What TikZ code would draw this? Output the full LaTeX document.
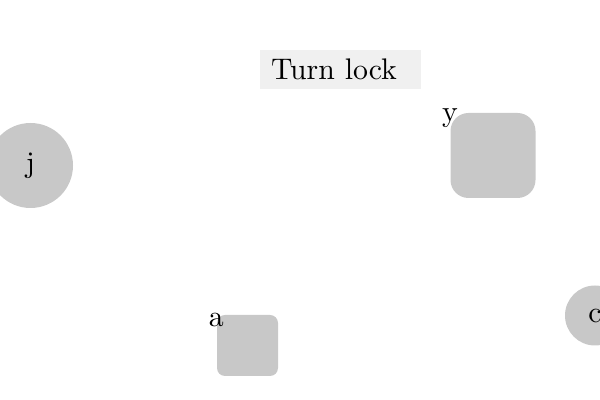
\documentclass[tikz,border=0pt]{standalone}
\usepackage{tikz}
\definecolor{shapegray}{RGB}{200,200,200}
\definecolor{boxgray}{RGB}{240,240,240}
\newcommand{\pxu}{0.0118cm}

\begin{document}
\begin{tikzpicture}[x=\pxu,y=-\pxu,
    roundnode/.style={circle,fill=shapegray,inner sep=0pt},
    squarenode/.style={rectangle,fill=shapegray,inner sep=0pt},
    titlebox/.style={rectangle,fill=boxgray,inner sep=0pt}]
    \useasboundingbox (0,0) rectangle (600,400);

    % --- Title ---
    \node[titlebox,minimum width=161*\pxu,minimum height=39*\pxu,text width=139*\pxu,align=left] (title) at (340.5,69.5) {Turn lock};

    % --- Shapes ---
    \node[roundnode,minimum size=85*\pxu] (j) at (30.5,165.5) {\raisebox{-1pt}{j}};
    \node[squarenode,rounded corners=18*\pxu,minimum size=85*\pxu,label={[anchor=center,yshift=-6*\pxu]north west:y}] (y) at (493,155.5) {};
    \node[squarenode,rounded corners=8*\pxu,minimum size=61*\pxu,label={[anchor=center,yshift=-6*\pxu]north west:a}] (a) at (247.5,345.5) {};
    \node[roundnode,minimum size=60*\pxu] (c) at (595,315.5) {c};
\end{tikzpicture}
\end{document}
